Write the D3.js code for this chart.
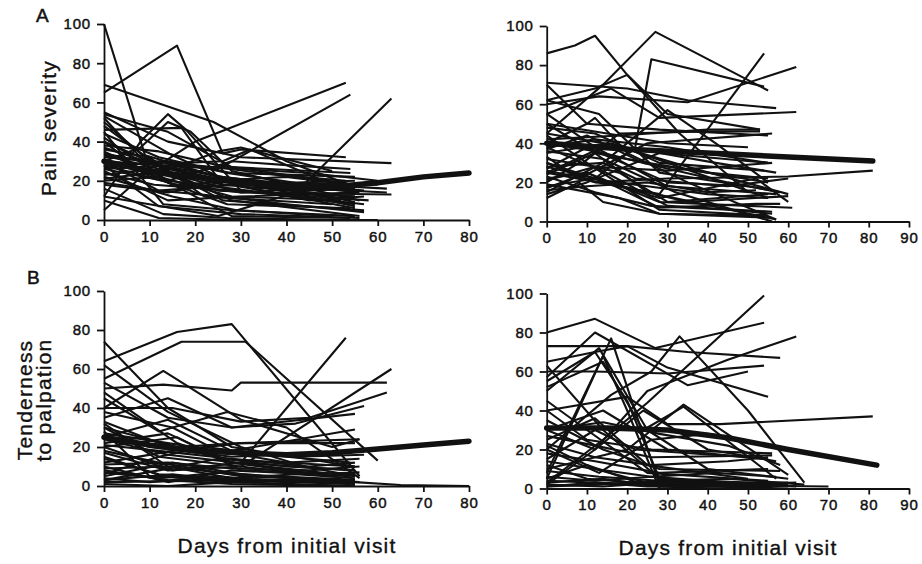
<!DOCTYPE html>
<html>
<head>
<meta charset="utf-8">
<script src="https://cdn.jsdelivr.net/npm/d3@7"></script>
<style>
  html, body { margin: 0; padding: 0; background: #fff; }
  svg { display: block; }
  .tick text { font-family: "Liberation Sans", Arial, sans-serif; font-size: 15px; fill: #111; stroke: #111; stroke-width: 0.45px; letter-spacing: 0.8px; }
  .domain, .tick line { stroke: #111; stroke-width: 1.8px; }
  .title { font-family: "Liberation Sans", Arial, sans-serif; font-size: 21px; fill: #111; stroke: #111; stroke-width: 0.35px; letter-spacing: 1.2px; }
  .panel-label { font-family: "Liberation Sans", Arial, sans-serif; font-size: 19px; fill: #111; stroke: #111; stroke-width: 0.5px; }
</style>
</head>
<body>
<svg id="chart" width="922" height="564"></svg>
<script>
// ---------- DATA (days from initial visit, score 0-100) ----------
const yTicks = [0, 20, 40, 60, 80, 100];
const xTicksLeft = [0, 10, 20, 30, 40, 50, 60, 70, 80];
const xTicksRight = [0, 10, 20, 30, 40, 50, 60, 70, 80, 90];
const panelLetters = ["A", "B"];
const xTitle = "Days from initial visit";
const yTitlePain = ["Pain severity"];
const yTitleTender = ["Tenderness", "to palpation"];

// Panel A, left: pain severity trajectories
const painLeft = [
  [[0,100],[9,33],[28,20],[54,10]],
  [[0,65],[16,89],[26,34],[30,36],[53,32]],
  [[0,69],[24,50],[40,30],[55,17]],
  [[0,40],[12,28],[20,40],[53,70]],
  [[0,30],[25,26],[54,64]],
  [[0,12],[25,2],[42,14],[63,62]],
  [[0,55],[14,40],[30,32],[63,29]],
  [[0,54],[14,45],[28,27],[54,24]],
  [[0,12],[8,40],[14,54],[18,46],[30,15],[55,8]],
  [[0,30],[8,37],[14,50],[19,45],[28,25],[56,10]],
  [[0,10],[12,1],[30,0],[60,0]],
  [[0,5],[12,30],[25,22],[57,15]],
  [[0,50],[10,30],[26,10],[57,5]],
  [[0,48],[14,24],[30,14],[63,13]],
  [[0,45],[13,8],[28,5],[55,2]],
  [[0,42],[14,20],[28,30],[40,28],[54,26]],
  [[0,38],[12,35],[25,28],[55,18]],
  [[0,36],[10,32],[22,12],[50,8]],
  [[0,35],[15,18],[30,20],[62,16]],
  [[0,33],[14,25],[28,10],[56,2]],
  [[0,32],[16,29],[26,30],[32,36],[48,20]],
  [[0,30],[12,15],[29,18],[45,10],[57,12]],
  [[0,29],[15,22],[25,15],[55,12]],
  [[0,28],[12,7],[30,3],[56,1]],
  [[0,27],[14,30],[28,24],[55,22]],
  [[0,26],[13,20],[27,8],[54,6]],
  [[0,25],[14,10],[30,12],[55,14]],
  [[0,24],[11,18],[28,15],[58,10]],
  [[0,22],[15,12],[29,5],[50,2]],
  [[0,21],[13,25],[26,18],[55,20]],
  [[0,20],[12,22],[28,2],[54,1]],
  [[0,18],[14,14],[28,20],[55,7]],
  [[0,16],[13,3],[27,1],[52,0]],
  [[0,52],[12,22],[28,12],[52,10]],
  [[0,53],[15,33],[30,17],[55,6]],
  [[0,46],[17,47],[26,18],[55,12]],
  [[0,40],[10,22],[25,35],[30,37],[50,25]],
  [[0,34],[12,28],[26,22],[40,18],[56,14]],
  [[0,31],[14,20],[28,16],[42,12],[57,8]],
  [[0,37],[13,27],[27,20],[44,15],[55,16]],
  [[0,23],[10,26],[25,20],[40,22],[54,18]],
  [[0,44],[12,32],[27,24],[42,19],[60,18]],
  [[0,28],[16,18],[30,14],[45,16],[62,14]],
  [[0,19],[12,15],[26,12],[40,8],[57,4]],
  [[0,40],[14,26],[28,19],[48,13],[55,9]],
  [[0,33],[10,30],[24,27],[38,23],[53,20]],
  [[0,26],[15,28],[30,26],[45,24],[60,20]]
];
const painLeftTrend = [[0,30],[10,25],[20,22],[30,19],[40,17],[50,17],[60,19],[70,22],[80,24]];

// Panel A, right: pain severity trajectories
const painRight = [
  [[0,86],[7,90],[12,95],[20,75],[33,45],[50,15]],
  [[0,45],[14,70],[27,97],[55,67]],
  [[0,28],[12,22],[22,38],[26,83],[54,69]],
  [[0,60],[13,64],[35,61],[62,79]],
  [[0,25],[28,14],[54,86]],
  [[0,55],[16,68],[28,53],[62,56]],
  [[0,71],[20,68],[35,62],[57,58]],
  [[0,70],[10,50],[28,47],[55,44]],
  [[0,62],[12,68],[20,75],[30,55],[53,47]],
  [[0,55],[12,38],[30,18],[57,14]],
  [[0,30],[12,20],[30,22],[60,23],[81,26]],
  [[0,40],[10,50],[12,53],[20,35],[35,20],[57,1]],
  [[0,15],[14,30],[30,57],[42,40],[55,20]],
  [[0,22],[10,25],[28,10],[50,8],[61,7]],
  [[0,12],[8,20],[14,10],[28,4],[55,2]],
  [[0,35],[15,40],[35,28],[60,14]],
  [[0,38],[12,42],[30,38],[55,30]],
  [[0,42],[18,44],[40,47],[53,47]],
  [[0,20],[8,30],[18,25],[30,10],[55,14]],
  [[0,50],[12,35],[25,15],[57,1]],
  [[0,18],[12,22],[28,12],[52,22],[60,10]],
  [[0,25],[16,40],[30,30],[55,12]],
  [[0,44],[10,30],[28,6],[55,3]],
  [[0,33],[8,22],[25,40],[56,45]],
  [[0,17],[10,25],[28,7],[52,9],[58,9]],
  [[0,48],[12,45],[28,30],[54,26]],
  [[0,28],[14,30],[22,22],[45,18],[60,22]],
  [[0,38],[9,30],[18,45],[40,46],[53,46]],
  [[0,27],[10,38],[30,20],[50,18],[58,15]],
  [[0,62],[13,55],[28,25],[50,18]],
  [[0,21],[12,28],[30,8],[56,5]],
  [[0,30],[15,20],[35,10],[60,13]],
  [[0,14],[10,20],[28,35],[55,30]],
  [[0,24],[12,35],[25,30],[55,20]],
  [[0,36],[14,32],[32,15],[56,0]],
  [[0,19],[18,12],[28,4],[54,3]],
  [[0,40],[12,36],[28,28],[45,20],[58,15]],
  [[0,26],[10,22],[25,18],[40,14],[55,12]],
  [[0,45],[14,40],[28,35],[42,30],[57,25]],
  [[0,32],[12,28],[30,26],[56,30]],
  [[0,16],[10,18],[25,20],[40,15],[52,16]],
  [[0,23],[12,15],[26,8],[45,6],[56,4]],
  [[0,50],[15,45],[30,40],[50,38]],
  [[0,37],[10,44],[24,30],[40,25],[55,22]]
];
const painRightTrend = [[0,40],[20,37],[40,35],[60,33],[81,31]];

// Panel B, left: tenderness to palpation trajectories
const tenderLeft = [
  [[0,64],[16,79],[28,83],[56,5]],
  [[0,55],[17,74],[31,74],[60,13]],
  [[0,74],[14,40],[28,20],[55,10]],
  [[0,40],[13,59],[30,34],[50,20],[56,24]],
  [[0,50],[13,52],[28,49],[30,53],[62,53]],
  [[0,40],[15,40],[30,33],[45,35],[62,48]],
  [[0,20],[15,8],[30,12],[53,76]],
  [[0,30],[12,15],[30,10],[63,60]],
  [[0,53],[14,35],[28,30],[55,37]],
  [[0,35],[14,45],[28,30],[42,32],[57,41]],
  [[0,25],[14,34],[28,18],[55,29]],
  [[0,22],[14,27],[28,12],[50,5]],
  [[0,45],[12,28],[27,38],[40,30],[56,4]],
  [[0,30],[16,20],[30,22],[56,24]],
  [[0,62],[14,38],[30,20],[44,10],[55,5]],
  [[0,2],[30,3],[55,2],[65,0.5],[80,0]],
  [[0,28],[10,5],[28,3],[54,1]],
  [[0,18],[12,12],[30,5],[55,3]],
  [[0,10],[14,2],[28,8],[54,5]],
  [[0,5],[15,12],[30,6],[55,3]],
  [[0,15],[13,5],[27,2],[52,4]],
  [[0,24],[14,16],[29,12],[55,8]],
  [[0,26],[10,20],[28,15],[57,18]],
  [[0,32],[14,10],[28,6],[56,2]],
  [[0,3],[12,8],[25,14],[55,10]],
  [[0,8],[14,3],[28,1],[54,0]],
  [[0,20],[16,25],[30,8],[55,6]],
  [[0,12],[15,18],[30,22],[55,22]],
  [[0,38],[15,30],[25,18],[40,12],[56,14]],
  [[0,48],[16,22],[28,12],[55,5]],
  [[0,1],[14,0],[28,2],[55,0]],
  [[0,6],[12,15],[22,20],[40,15],[54,12]],
  [[0,14],[12,6],[26,4],[40,3],[55,1]],
  [[0,9],[14,10],[28,4],[42,6],[55,4]],
  [[0,4],[10,2],[25,5],[40,2],[54,3]],
  [[0,17],[14,8],[30,10],[45,6],[56,7]],
  [[0,21],[12,18],[28,14],[45,10],[55,12]],
  [[0,27],[14,22],[28,17],[42,15],[57,16]],
  [[0,7],[12,4],[26,7],[40,4],[53,2]],
  [[0,11],[14,12],[28,9],[45,8],[56,10]],
  [[0,33],[12,22],[26,14],[40,10],[55,8]],
  [[0,3],[15,6],[30,2],[45,3],[55,1]]
];
const tenderLeftTrend = [[0,25],[10,21],[20,18],[30,17],[40,16],[50,17],[60,19],[70,21],[80,23]];

// Panel B, right: tenderness to palpation trajectories
const tenderRight = [
  [[0,80],[12,87],[27,72],[54,85]],
  [[0,3],[14,25],[25,44],[54,99]],
  [[0,30],[12,20],[25,50],[45,66],[62,78]],
  [[0,73],[20,73],[35,70],[58,67]],
  [[0,60],[12,60],[30,59],[54,63]],
  [[0,55],[12,70],[20,73],[30,62],[55,47]],
  [[0,20],[16,48],[26,60],[33,78],[50,40],[64,3]],
  [[0,40],[20,47],[30,33],[43,33],[81,37]],
  [[0,57],[12,80],[35,53],[50,60]],
  [[0,5],[16,77],[28,2],[55,1]],
  [[0,50],[13,72],[25,30],[40,10],[60,5]],
  [[0,10],[20,20],[34,43],[60,7]],
  [[0,25],[12,36],[25,12],[50,5]],
  [[0,2],[12,20],[24,40],[40,20],[57,14]],
  [[0,63],[14,30],[28,5],[56,2]],
  [[0,45],[10,30],[25,8],[55,4]],
  [[0,22],[12,10],[25,3],[60,3]],
  [[0,15],[12,30],[22,20],[50,16]],
  [[0,8],[14,68],[20,40],[28,0],[55,2]],
  [[0,35],[14,20],[28,10],[58,9]],
  [[0,27],[12,22],[26,16],[56,17]],
  [[0,12],[10,5],[28,2],[70,1]],
  [[0,3],[14,5],[28,1],[62,3]],
  [[0,18],[12,14],[28,8],[55,10]],
  [[0,5],[10,12],[24,2],[60,0]],
  [[0,40],[10,25],[26,20],[56,18]],
  [[0,30],[14,40],[30,20],[55,15]],
  [[0,52],[14,65],[24,30],[34,42],[57,5]],
  [[0,1],[13,2],[27,4],[54,2]],
  [[0,20],[13,8],[26,25],[40,28],[56,22]],
  [[0,65],[12,70],[20,45],[28,5],[56,1]],
  [[0,4],[12,3],[26,2],[40,3],[56,2]],
  [[0,2],[14,1],[28,3],[45,2],[62,1]],
  [[0,6],[12,4],[26,6],[40,4],[60,2]],
  [[0,9],[13,6],[28,4],[45,5],[64,2]],
  [[0,1],[12,3],[25,1],[45,1],[55,3]],
  [[0,14],[12,10],[26,6],[42,8],[57,6]],
  [[0,30],[14,34],[28,28],[45,22],[58,12]],
  [[0,23],[12,16],[26,12],[45,14],[55,16]]
];
const tenderRightTrend = [[0,31],[15,31],[30,30],[45,26],[60,20],[82,12]];

// ---------- LAYOUT ----------
const panels = [
  {series: painLeft,    trend: painLeftTrend,    xMax: 80, xTicks: xTicksLeft,  x0: 104,   x1: 469, y0: 220,   y1: 24},
  {series: painRight,   trend: painRightTrend,   xMax: 90, xTicks: xTicksRight, x0: 546.7, x1: 909, y0: 221.5, y1: 26},
  {series: tenderLeft,  trend: tenderLeftTrend,  xMax: 80, xTicks: xTicksLeft,  x0: 104,   x1: 469, y0: 486,   y1: 291},
  {series: tenderRight, trend: tenderRightTrend, xMax: 90, xTicks: xTicksRight, x0: 546.7, x1: 909, y0: 488.5, y1: 293.5}
];

const svg = d3.select("#chart");

panels.forEach(p => {
  const x = d3.scaleLinear().domain([0, p.xMax]).range([p.x0, p.x1]);
  const y = d3.scaleLinear().domain([0, 100]).range([p.y0, p.y1]);
  const g = svg.append("g");

  const line = d3.line().x(d => x(d[0])).y(d => y(d[1]));

  g.selectAll("path.traj").data(p.series).join("path")
    .attr("class", "traj")
    .attr("d", line)
    .attr("fill", "none")
    .attr("stroke", "#111")
    .attr("stroke-width", 2.1)
    .attr("stroke-linejoin", "round");

  g.append("path")
    .datum(p.trend)
    .attr("d", line)
    .attr("fill", "none")
    .attr("stroke", "#111")
    .attr("stroke-width", 5.5)
    .attr("stroke-linecap", "round")
    .attr("stroke-linejoin", "round");

  const ya = g.append("g")
    .attr("transform", `translate(${p.x0},0)`)
    .call(d3.axisLeft(y).tickValues(yTicks).tickSize(7).tickPadding(6).tickSizeOuter(0));
  const xa = g.append("g")
    .attr("transform", `translate(0,${p.y0})`)
    .call(d3.axisBottom(x).tickValues(p.xTicks).tickSize(6).tickPadding(5).tickSizeOuter(0));
  [ya, xa].forEach(a => a.selectAll(".tick text").attr("font-family", null));
});

// Panel letters
svg.append("text").attr("class", "panel-label").attr("x", 36).attr("y", 22).text(panelLetters[0]);
svg.append("text").attr("class", "panel-label").attr("x", 27).attr("y", 284).text(panelLetters[1]);

// Y axis titles
svg.append("text").attr("class", "title")
  .attr("transform", "translate(56,128) rotate(-90)")
  .attr("text-anchor", "middle")
  .text(yTitlePain[0]);
yTitleTender.forEach((t, i) => {
  svg.append("text").attr("class", "title")
    .attr("transform", `translate(${32 + i * 19},400) rotate(-90)`)
    .attr("text-anchor", "middle")
    .text(t);
});

// X axis titles
svg.append("text").attr("class", "title").attr("x", 287).attr("y", 553).attr("text-anchor", "middle").text(xTitle);
svg.append("text").attr("class", "title").attr("x", 728).attr("y", 555).attr("text-anchor", "middle").text(xTitle);
</script>
</body>
</html>
